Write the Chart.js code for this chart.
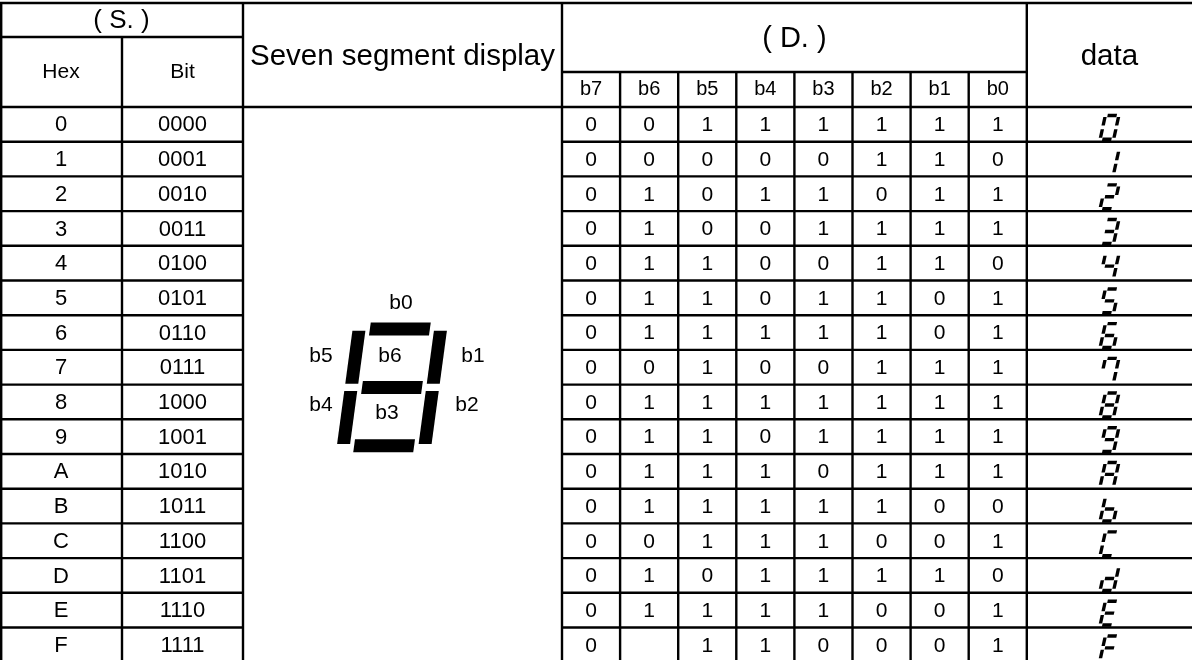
<html>
  <head>
    <script src="https://cdn.jsdelivr.net/npm/chart.js"></script>
    <meta charset="UTF-8" />
    <style>
      body { margin: 0; background: #fff; }
    </style>
  </head>
  <body>
    <canvas id="myChart" width="1192" height="660"></canvas>
    <script>
      // table content
      const hexLabels = ["0", "1", "2", "3", "4", "5", "6", "7", "8", "9", "A", "B", "C", "D", "E", "F"];
      const bitLabels = ["0000", "0001", "0010", "0011", "0100", "0101", "0110", "0111",
                         "1000", "1001", "1010", "1011", "1100", "1101", "1110", "1111"];
      const bitHeaders = ["b7", "b6", "b5", "b4", "b3", "b2", "b1", "b0"];
      // ( D. ) columns b7..b0, null = cell left empty
      const segBits = [
        [0, 0, 1, 1, 1, 1, 1, 1],
        [0, 0, 0, 0, 0, 1, 1, 0],
        [0, 1, 0, 1, 1, 0, 1, 1],
        [0, 1, 0, 0, 1, 1, 1, 1],
        [0, 1, 1, 0, 0, 1, 1, 0],
        [0, 1, 1, 0, 1, 1, 0, 1],
        [0, 1, 1, 1, 1, 1, 0, 1],
        [0, 0, 1, 0, 0, 1, 1, 1],
        [0, 1, 1, 1, 1, 1, 1, 1],
        [0, 1, 1, 0, 1, 1, 1, 1],
        [0, 1, 1, 1, 0, 1, 1, 1],
        [0, 1, 1, 1, 1, 1, 0, 0],
        [0, 0, 1, 1, 1, 0, 0, 1],
        [0, 1, 0, 1, 1, 1, 1, 0],
        [0, 1, 1, 1, 1, 0, 0, 1],
        [0, null, 1, 1, 0, 0, 0, 1],
      ];
      const diagramLabels = ["b0", "b1", "b2", "b3", "b4", "b5", "b6"];
      const titleS = "( S. )";
      const titleHex = "Hex";
      const titleBit = "Bit";
      const titleSeven = "Seven segment display";
      const titleD = "( D. )";
      const titleData = "data";

      // layout, in page pixels
      const xHexBit = 122, xBitSeven = 243, xSevenD = 562, bColW = 58.1;
      const xDData = xSevenD + 8 * bColW;
      const yTop = 3, ySRow = 37, yDRow = 72, yHead = 107, rowH = 34.7;
      const FONT = "'Liberation Sans', Arial, sans-serif";

      const rowMid = i => yHead + rowH * (i + 0.5);
      const bMid = j => xSevenD + bColW * (j + 0.5);

      // where the labels of the big diagram sit
      const diagramLabelPos = [[401, 303], [473, 356], [467, 405], [387, 413], [321, 405], [321, 356], [390, 356]];

      const bigShape = { cx: 392, cy: 387.4, w: 81.5, h: 116.7, k: 0.135, t: 13, hHalf: 30, vIn: 3.7, vOut: 56.7 };
      const smallShape = { w: 13.5, h: 23.8, k: 0.22, t: 3.4, hHalf: 4.6, vIn: 1.8, vOut: 10.3 };

      function drawDigit(ctx, cx, cy, s, on) {
        // on[n] -> segment bn (b0 top, b1 UR, b2 LR, b3 bottom, b4 LL, b5 UL, b6 middle)
        const ht = s.t / 2;
        const rects = [
          [-s.hHalf, s.hHalf, -s.h / 2 - ht, -s.h / 2 + ht],
          [s.w / 2 - ht, s.w / 2 + ht, -s.vOut, -s.vIn],
          [s.w / 2 - ht, s.w / 2 + ht, s.vIn, s.vOut],
          [-s.hHalf, s.hHalf, s.h / 2 - ht, s.h / 2 + ht],
          [-s.w / 2 - ht, -s.w / 2 + ht, s.vIn, s.vOut],
          [-s.w / 2 - ht, -s.w / 2 + ht, -s.vOut, -s.vIn],
          [-s.hHalf, s.hHalf, -ht, ht],
        ];
        ctx.fillStyle = "#000";
        rects.forEach((r, n) => {
          if (!on[n]) return;
          const pts = [[r[0], r[2]], [r[1], r[2]], [r[1], r[3]], [r[0], r[3]]];
          ctx.beginPath();
          pts.forEach(([x, y], i) => {
            const X = cx + x - s.k * y, Y = cy + y;
            i ? ctx.lineTo(X, Y) : ctx.moveTo(X, Y);
          });
          ctx.closePath();
          ctx.fill();
        });
      }

      const tablePlugin = {
        id: "table",
        beforeDraw(chart) {
          const { ctx, width, height } = chart;
          ctx.save();
          ctx.fillStyle = "#fff";
          ctx.fillRect(0, 0, width, height);
          ctx.restore();
        },
        afterDatasetsDraw(chart) {
          const { ctx } = chart;
          const sx = chart.scales.x, sy = chart.scales.y;
          const px = v => sx.getPixelForValue(v), py = v => sy.getPixelForValue(v);
          const yEnd = sy.max;

          ctx.save();
          ctx.strokeStyle = "#000";
          ctx.lineWidth = 2.4;
          const hLine = (y, x0, x1) => {
            ctx.beginPath(); ctx.moveTo(px(x0), py(y)); ctx.lineTo(px(x1), py(y)); ctx.stroke();
          };
          const vLine = (x, y0, y1) => {
            ctx.beginPath(); ctx.moveTo(px(x), py(y0)); ctx.lineTo(px(x), py(y1)); ctx.stroke();
          };
          hLine(yTop, 0, sx.max);
          hLine(ySRow, 0, xBitSeven);
          hLine(yDRow, xSevenD, xDData);
          hLine(yHead, 0, sx.max);
          hexLabels.forEach((_, i) => {
            if (i === 0) return;
            const yy = yHead + rowH * i;
            hLine(yy, 0, xBitSeven);
            hLine(yy, xSevenD, sx.max);
          });
          vLine(1.2, yTop - 1, yEnd);
          vLine(xHexBit, ySRow, yEnd);
          vLine(xBitSeven, yTop - 1, yEnd);
          vLine(xSevenD, yTop - 1, yEnd);
          for (let j = 1; j < 8; j++) vLine(xSevenD + bColW * j, yDRow, yEnd);
          vLine(xDData, yTop - 1, yEnd);

          ctx.fillStyle = "#000";
          ctx.textAlign = "center";
          ctx.textBaseline = "middle";
          const text = (t, x, y, size) => {
            ctx.font = size + "px " + FONT;
            ctx.fillText(t, px(x), py(y));
          };
          text(titleS, xBitSeven / 2, (yTop + ySRow) / 2 + 1, 26);
          text(titleHex, xHexBit / 2, (ySRow + yHead) / 2, 21);
          text(titleBit, (xHexBit + xBitSeven) / 2, (ySRow + yHead) / 2, 21);
          text(titleSeven, (xBitSeven + xSevenD) / 2, 57, 29.5);
          text(titleD, (xSevenD + xDData) / 2, (yTop + yDRow) / 2 + 1, 29);
          text(titleData, (xDData + sx.max) / 2, 57, 29.5);
          bitHeaders.forEach((t, j) => text(t, bMid(j), (yDRow + yHead) / 2, 20));

          // big segment diagram
          drawDigit(ctx, px(bigShape.cx), py(bigShape.cy), bigShape, [1, 1, 1, 1, 1, 1, 1]);
          diagramLabels.forEach((t, n) => text(t, diagramLabelPos[n][0], diagramLabelPos[n][1], 21));

          // table cells and glyphs from the datasets
          chart.data.datasets.forEach((ds, di) => {
            const meta = chart.getDatasetMeta(di);
            meta.data.forEach((el, k) => {
              const raw = ds.data[k];
              if (ds.glyph) {
                // glyph: segment bn comes from column bn (empty cell drawn lit)
                const on = [0, 1, 2, 3, 4, 5, 6].map(n => raw.bits[7 - n] !== 0);
                drawDigit(ctx, el.x, el.y, smallShape, on);
              } else {
                ctx.font = ds.fontSize + "px " + FONT;
                ctx.fillText(raw.t, el.x, el.y);
              }
            });
          });
          ctx.restore();
        },
      };

      const datasets = [
        { label: "Hex", fontSize: 22, data: hexLabels.map((t, i) => ({ x: xHexBit / 2, y: rowMid(i) + 1, t })) },
        { label: "Bit", fontSize: 22, data: bitLabels.map((t, i) => ({ x: (xHexBit + xBitSeven) / 2, y: rowMid(i) + 1, t })) },
        ...bitHeaders.map((h, j) => ({
          label: h,
          fontSize: 21,
          data: segBits.map((row, i) => ({ x: bMid(j), y: rowMid(i) + 1, t: row[j] === null ? "" : String(row[j]) })),
        })),
        { label: "data", glyph: true, data: segBits.map((bits, i) => ({ x: 1109.5, y: rowMid(i) + 3, bits })) },
      ].map(ds => ({ ...ds, pointRadius: 0, showLine: false }));

      new Chart(document.getElementById("myChart"), {
        type: "scatter",
        data: { datasets },
        options: {
          responsive: false,
          animation: false,
          events: [],
          layout: { padding: 0 },
          plugins: { legend: { display: false }, tooltip: { enabled: false } },
          scales: {
            x: { type: "linear", min: 0, max: 1192, display: false },
            y: { type: "linear", min: 0, max: 660, reverse: true, display: false },
          },
        },
        plugins: [tablePlugin],
      });
    </script>
  </body>
</html>
